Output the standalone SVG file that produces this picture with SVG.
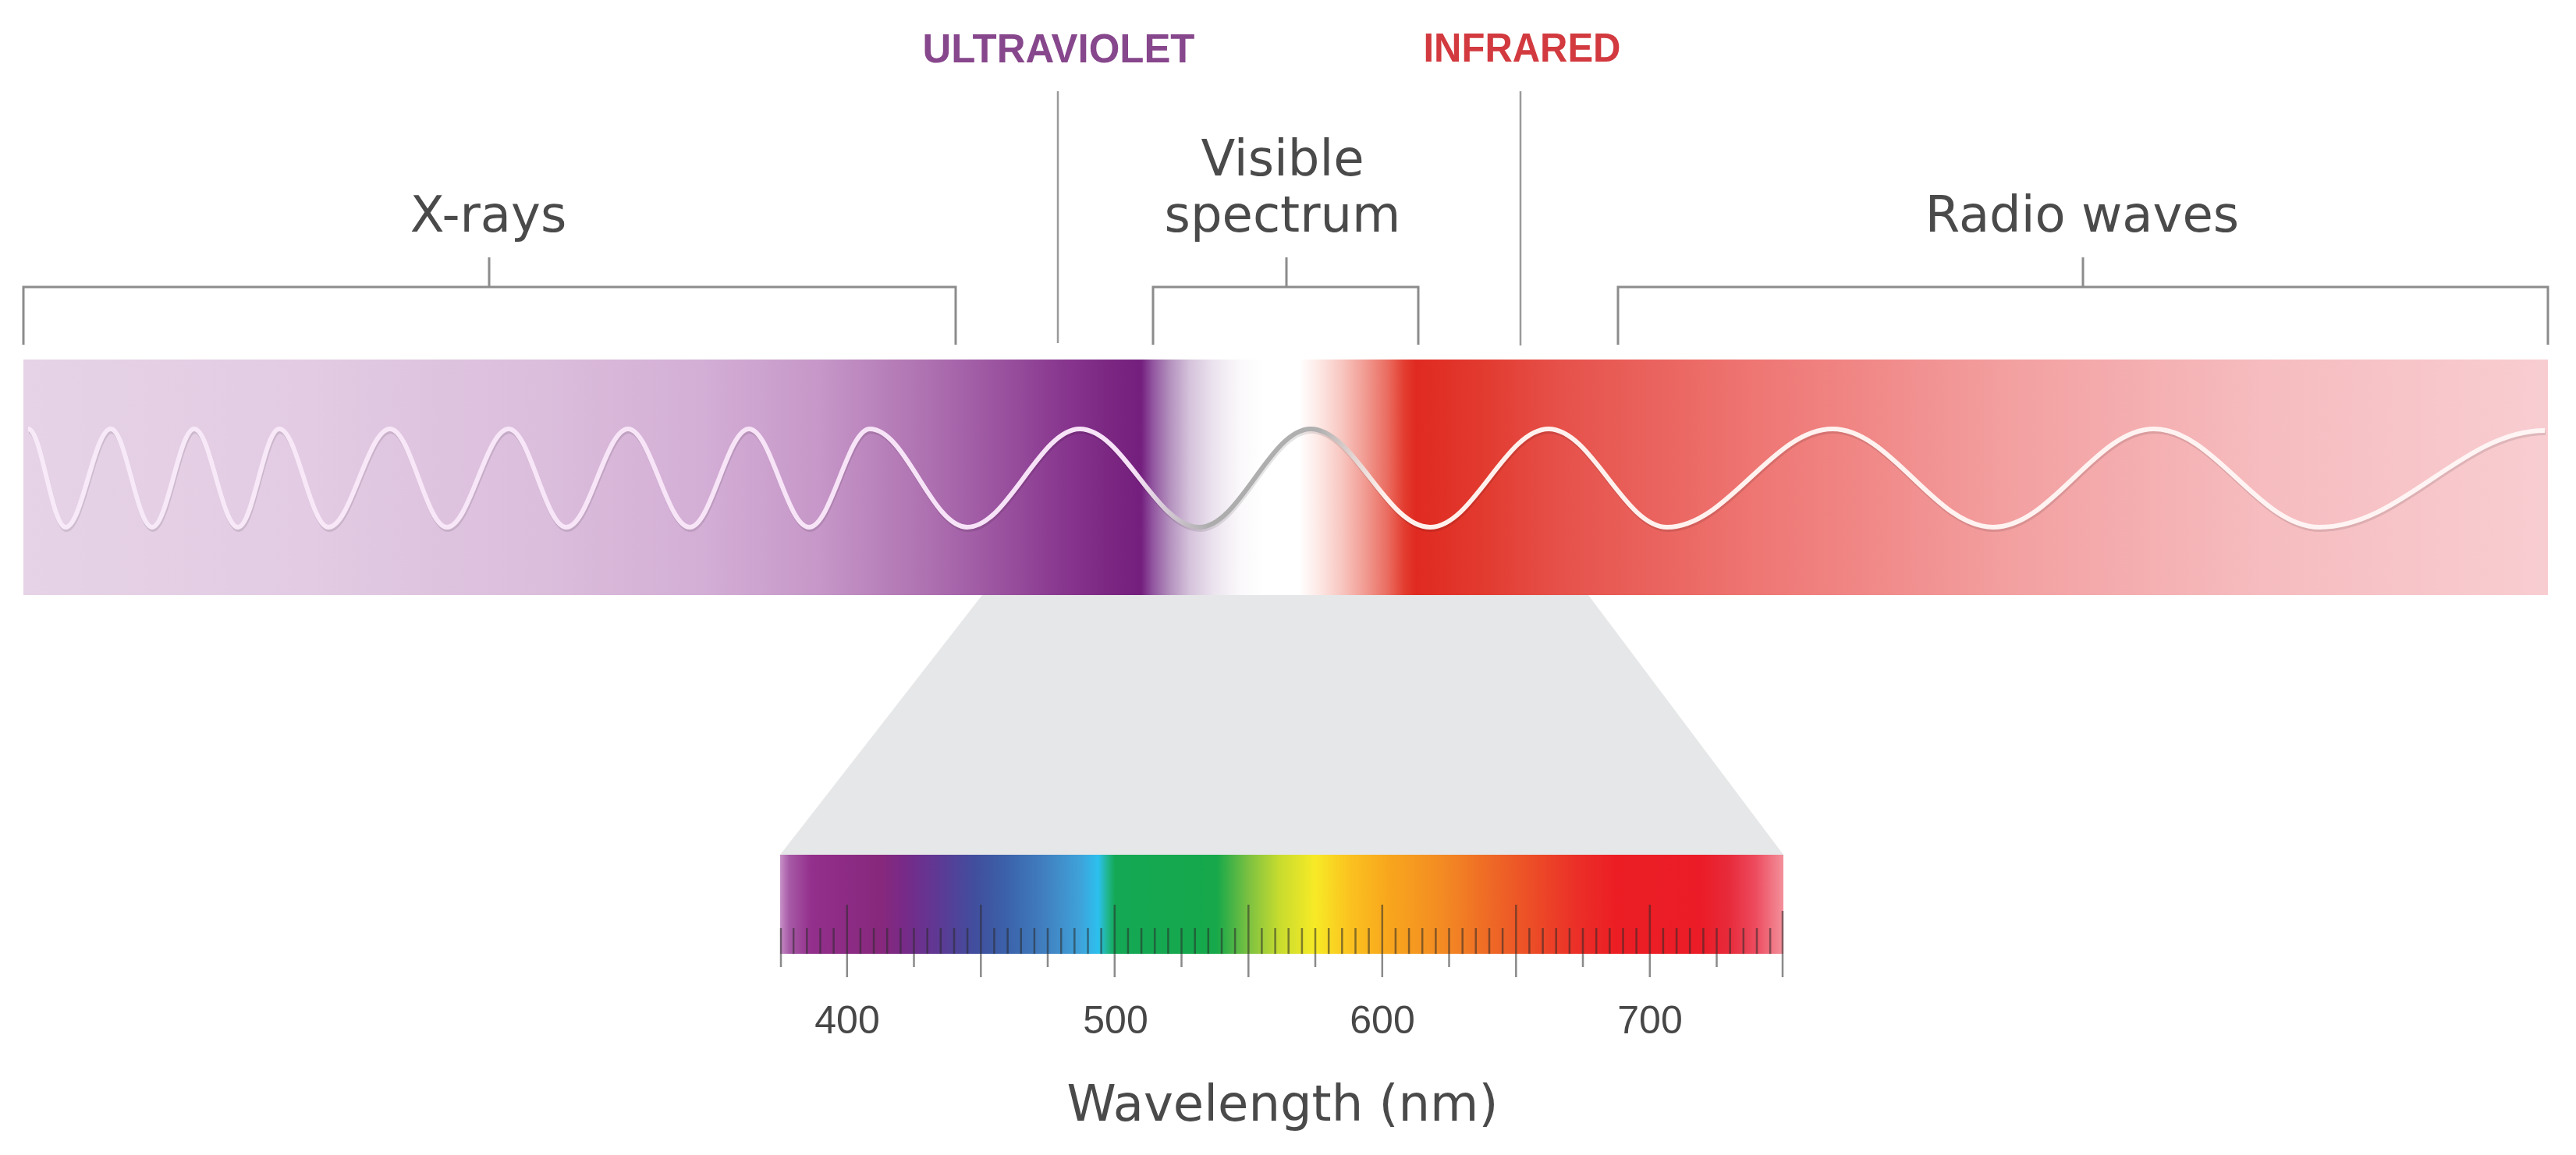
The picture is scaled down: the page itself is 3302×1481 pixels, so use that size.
<svg xmlns="http://www.w3.org/2000/svg" width="3302" height="1481" viewBox="0 0 3302 1481">
<style>
.lbl{font-family:"DejaVu Sans","Liberation Sans",sans-serif;font-size:64px;fill:#4a4a4a;text-anchor:middle}
.cap{font-family:"Liberation Sans",Arial,sans-serif;font-size:52px;font-weight:bold;text-anchor:middle}
.num{font-family:"Liberation Sans",Arial,sans-serif;font-size:50px;fill:#474747;text-anchor:middle}
.br{fill:none;stroke:#8c8c8c;stroke-width:3}
.vl{fill:none;stroke:#9a9a9a;stroke-width:2.5}
.tk{fill:none;stroke:#2a2a2a;stroke-opacity:0.55;stroke-width:2.5}
</style>
<defs>
<linearGradient id="gBar" gradientUnits="userSpaceOnUse" x1="0" y1="0" x2="3302" y2="0">
<stop offset="0.009" stop-color="#e6d3e7"/>
<stop offset="0.121" stop-color="#e2cbe3"/>
<stop offset="0.212" stop-color="#dbbddc"/>
<stop offset="0.273" stop-color="#d3aed5"/>
<stop offset="0.318" stop-color="#c697c8"/>
<stop offset="0.363" stop-color="#ac6eaf"/>
<stop offset="0.394" stop-color="#964c9b"/>
<stop offset="0.415" stop-color="#86348d"/>
<stop offset="0.436" stop-color="#77237f"/>
<stop offset="0.443" stop-color="#741f7e"/>
<stop offset="0.4476" stop-color="#9256a0"/>
<stop offset="0.4543" stop-color="#b492be"/>
<stop offset="0.4618" stop-color="#d5c2db"/>
<stop offset="0.4709" stop-color="#ebe3ee"/>
<stop offset="0.4815" stop-color="#fbf9fb"/>
<stop offset="0.4906" stop-color="#ffffff"/>
<stop offset="0.5042" stop-color="#ffffff"/>
<stop offset="0.5118" stop-color="#fde9e6"/>
<stop offset="0.5209" stop-color="#f8c6c0"/>
<stop offset="0.530" stop-color="#f19b92"/>
<stop offset="0.539" stop-color="#ea6a5e"/>
<stop offset="0.5451" stop-color="#e33d30"/>
<stop offset="0.5497" stop-color="#e02a21"/>
<stop offset="0.5754" stop-color="#e23a2f"/>
<stop offset="0.6057" stop-color="#e6514a"/>
<stop offset="0.6814" stop-color="#ee7673"/>
<stop offset="0.7813" stop-color="#f3a0a1"/>
<stop offset="0.8783" stop-color="#f6bcbf"/>
<stop offset="0.989" stop-color="#f8cdd1"/>
</linearGradient>
<linearGradient id="gWave" gradientUnits="userSpaceOnUse" x1="0" y1="0" x2="3302" y2="0">
<stop offset="0" stop-color="#f8eaf8"/>
<stop offset="0.440" stop-color="#f7e2f7"/>
<stop offset="0.455" stop-color="#cfc6cf"/>
<stop offset="0.470" stop-color="#acacac"/>
<stop offset="0.512" stop-color="#b0b0b0"/>
<stop offset="0.525" stop-color="#e2d4d2"/>
<stop offset="0.538" stop-color="#fff0ec"/>
<stop offset="1" stop-color="#fff5f5"/>
</linearGradient>
<linearGradient id="gRainbow" gradientUnits="userSpaceOnUse" x1="1000" y1="0" x2="2286" y2="0">
<stop offset="0" stop-color="#c690c6"/>
<stop offset="0.009" stop-color="#a75aa6"/>
<stop offset="0.031" stop-color="#932f8c"/>
<stop offset="0.101" stop-color="#87287c"/>
<stop offset="0.124" stop-color="#772a88"/>
<stop offset="0.156" stop-color="#5f3894"/>
<stop offset="0.194" stop-color="#414e9e"/>
<stop offset="0.226" stop-color="#3b62aa"/>
<stop offset="0.264" stop-color="#4180c0"/>
<stop offset="0.299" stop-color="#3fa2d9"/>
<stop offset="0.317" stop-color="#2cc0ef"/>
<stop offset="0.327" stop-color="#1fb58a"/>
<stop offset="0.334" stop-color="#14a855"/>
<stop offset="0.435" stop-color="#16a84a"/>
<stop offset="0.467" stop-color="#7cc141"/>
<stop offset="0.498" stop-color="#c8dc2e"/>
<stop offset="0.533" stop-color="#f7ea26"/>
<stop offset="0.568" stop-color="#fbc21f"/>
<stop offset="0.607" stop-color="#f8a61d"/>
<stop offset="0.661" stop-color="#f38a23"/>
<stop offset="0.715" stop-color="#ee6426"/>
<stop offset="0.754" stop-color="#ec4a27"/>
<stop offset="0.793" stop-color="#eb3028"/>
<stop offset="0.832" stop-color="#ec1e24"/>
<stop offset="0.918" stop-color="#eb1c27"/>
<stop offset="0.945" stop-color="#e72a3a"/>
<stop offset="0.972" stop-color="#ed4b5e"/>
<stop offset="1" stop-color="#f3909b"/>
</linearGradient>
</defs>
<rect width="3302" height="1481" fill="#ffffff"/>

<g id="visible-zoom">
<polygon points="1259,763 2036,763 2286,1096 1000,1096" fill="#e6e7e8"/>
</g>

<g id="spectrum-bar">
<rect x="30" y="461" width="3236" height="302" fill="url(#gBar)"/>
<path id="wave-shadow" transform="translate(1,3)" fill="none" stroke="#000" stroke-opacity="0.1" stroke-width="6" d="M36,550 C53.4,550 66.6,676 84,676 C105.1,676 120.9,550 142,550 C161.3,550 175.7,676 195,676 C214.6,676 229.4,550 249,550 C269.4,550 284.6,676 305,676 C324.3,676 338.7,550 358,550 C380.9,550 398.1,676 421,676 C449.7,676 471.3,550 500,550 C526.5,550 546.5,676 573,676 C601.7,676 623.3,550 652,550 C678.9,550 699.1,676 726,676 C754.7,676 776.3,550 805,550 C833.7,550 855.3,676 884,676 C911.6,676 932.4,550 960,550 C988,550 1009,676 1037,676 C1065.3,676 1086.7,550 1115,550 C1161,550 1194,676 1240,676 C1291,676 1333,550 1384,550 C1439.6,550 1481.4,676 1537,676 C1589,676 1628,550 1680,550 C1735.6,550 1777.4,676 1833,676 C1888.2,676 1929.8,550 1985,550 C2040.2,550 2081.8,676 2137,676 C2214,676 2272,550 2349,550 C2423.9,550 2480.1,676 2555,676 C2629.9,676 2686.1,550 2761,550 C2838,550 2896,676 2973,676 C3078,676 3157,552 3262,552"/>
<path id="wave" fill="none" stroke="url(#gWave)" stroke-width="6" d="M36,550 C53.4,550 66.6,676 84,676 C105.1,676 120.9,550 142,550 C161.3,550 175.7,676 195,676 C214.6,676 229.4,550 249,550 C269.4,550 284.6,676 305,676 C324.3,676 338.7,550 358,550 C380.9,550 398.1,676 421,676 C449.7,676 471.3,550 500,550 C526.5,550 546.5,676 573,676 C601.7,676 623.3,550 652,550 C678.9,550 699.1,676 726,676 C754.7,676 776.3,550 805,550 C833.7,550 855.3,676 884,676 C911.6,676 932.4,550 960,550 C988,550 1009,676 1037,676 C1065.3,676 1086.7,550 1115,550 C1161,550 1194,676 1240,676 C1291,676 1333,550 1384,550 C1439.6,550 1481.4,676 1537,676 C1589,676 1628,550 1680,550 C1735.6,550 1777.4,676 1833,676 C1888.2,676 1929.8,550 1985,550 C2040.2,550 2081.8,676 2137,676 C2214,676 2272,550 2349,550 C2423.9,550 2480.1,676 2555,676 C2629.9,676 2686.1,550 2761,550 C2838,550 2896,676 2973,676 C3078,676 3157,552 3262,552"/>
</g>

<g id="visible-scale">
<rect x="1000" y="1096" width="1286" height="127" fill="url(#gRainbow)"/>
<path class="tk" d="M1017.2,1190V1223M1034.3,1190V1223M1051.5,1190V1223M1068.6,1190V1223M1102.9,1190V1223M1120.1,1190V1223M1137.2,1190V1223M1154.4,1190V1223M1188.7,1190V1223M1205.8,1190V1223M1223,1190V1223M1240.1,1190V1223M1274.4,1190V1223M1291.6,1190V1223M1308.7,1190V1223M1325.9,1190V1223M1360.2,1190V1223M1377.3,1190V1223M1394.5,1190V1223M1411.6,1190V1223M1445.9,1190V1223M1463.1,1190V1223M1480.2,1190V1223M1497.4,1190V1223M1531.7,1190V1223M1548.8,1190V1223M1566,1190V1223M1583.1,1190V1223M1617.4,1190V1223M1634.6,1190V1223M1651.7,1190V1223M1668.9,1190V1223M1703.2,1190V1223M1720.3,1190V1223M1737.5,1190V1223M1754.6,1190V1223M1788.9,1190V1223M1806.1,1190V1223M1823.2,1190V1223M1840.4,1190V1223M1874.7,1190V1223M1891.8,1190V1223M1909,1190V1223M1926.1,1190V1223M1960.4,1190V1223M1977.6,1190V1223M1994.7,1190V1223M2011.9,1190V1223M2046.2,1190V1223M2063.3,1190V1223M2080.5,1190V1223M2097.6,1190V1223M2131.9,1190V1223M2149.1,1190V1223M2166.2,1190V1223M2183.4,1190V1223M2217.7,1190V1223M2234.8,1190V1223M2252,1190V1223M2269.1,1190V1223"/>
<path class="tk" d="M1001,1190V1240M1171.5,1190V1240M1343,1190V1240M1514.5,1190V1240M1686,1190V1240M1857.5,1190V1240M2029,1190V1240M2200.5,1190V1240"/>
<path class="tk" d="M1085.8,1160V1253M1257.3,1160V1253M1428.8,1160V1253M1600.3,1160V1253M1771.8,1160V1253M1943.3,1160V1253M2114.8,1160V1253M2285,1168V1253"/>
<text class="num" x="1086" y="1325">400</text>
<text class="num" x="1430" y="1325">500</text>
<text class="num" x="1772" y="1325">600</text>
<text class="num" x="2115" y="1325">700</text>
<text class="lbl" x="1644" y="1437" font-size="60">Wavelength (nm)</text>
</g>

<g id="label-xrays"><text class="lbl" x="626" y="297">X-rays</text></g>
<g id="label-visible"><text class="lbl" x="1644" y="225">Visible</text><text class="lbl" x="1644" y="297">spectrum</text></g>
<g id="label-radio"><text class="lbl" x="2669" y="297">Radio waves</text></g>
<g id="label-uv"><text class="cap" x="1357" y="80" fill="#87478c" textLength="349" lengthAdjust="spacingAndGlyphs">ULTRAVIOLET</text></g>
<g id="label-ir"><text class="cap" x="1951" y="79" fill="#d23a3f" textLength="253" lengthAdjust="spacingAndGlyphs">INFRARED</text></g>

<g id="connectors">
<path class="br" d="M30,442V368H1225V442M627,368V330"/>
<path class="br" d="M1478,442V368H1818V442M1649,368V330"/>
<path class="br" d="M2074,442V368H3266V442M2670,368V330"/>
<path class="vl" d="M1356,117V440"/>
<path class="vl" d="M1949,117V443"/>
</g>
</svg>
